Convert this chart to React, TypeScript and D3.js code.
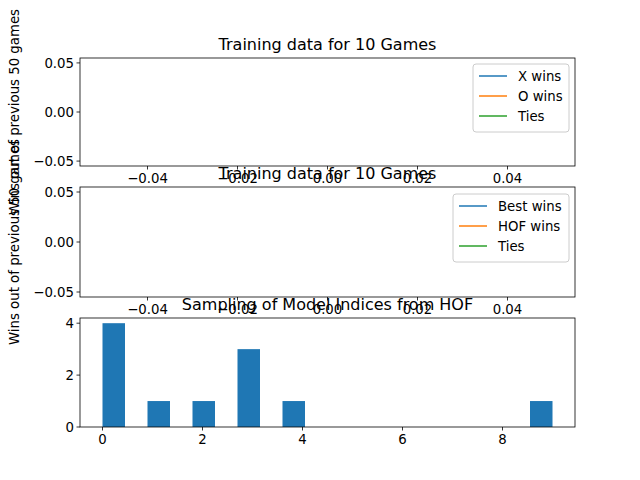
import React from "react";
import * as d3 from "d3";

const titles = ["Training data for 10 Games", "Training data for 10 Games", "Sampling of Model Indices from HOF"];
const legend1 = ["X wins", "O wins", "Ties"];
const legend2 = ["Best wins", "HOF wins", "Ties"];
const colors = ["#1f77b4", "#ff7f0e", "#2ca02c"];
const emptyTicksX = [-0.04, -0.02, 0.0, 0.02, 0.04];
const emptyTicksY = [-0.05, 0.0, 0.05];
const sampleIndices = [0, 0, 0, 0, 1, 2, 3, 3, 3, 4, 9];
const histTicksX = [0, 2, 4, 6, 8];
const histTicksY = [0, 2, 4];

const L = 80, R = 575;
const panels = [{ t: 58, b: 166 }, { t: 187, b: 297 }, { t: 318, b: 427 }];
const font = "DejaVu Sans, sans-serif";
const minus = (s: string) => s.replace("-", "\u2212");

function Axes({ t, b, x, y, xt, yt, fx, fy, title, children }: any) {
  return (
    <g>
      {children}
      <rect x={L} y={t} width={R - L} height={b - t} fill="none" stroke="#000" strokeWidth={0.8} />
      {xt.map((v: number) => (
        <g key={"x" + v}>
          <line x1={x(v)} x2={x(v)} y1={b} y2={b + 3.5} stroke="#000" strokeWidth={0.8} />
          <text x={x(v)} y={b + 17} textAnchor="middle" fontSize={13.3}>{fx(v)}</text>
        </g>
      ))}
      {yt.map((v: number) => (
        <g key={"y" + v}>
          <line x1={L - 3.5} x2={L} y1={y(v)} y2={y(v)} stroke="#000" strokeWidth={0.8} />
          <text x={L - 6} y={y(v) + 5} textAnchor="end" fontSize={13.3}>{fy(v)}</text>
        </g>
      ))}
      <text x={(L + R) / 2} y={t - 8} textAnchor="middle" fontSize={16}>{title}</text>
    </g>
  );
}

function Legend({ x0, y0, w, items }: any) {
  return (
    <g>
      <rect x={x0} y={y0} width={w} height={68} fill="#fff" fillOpacity={0.8} stroke="#ccc" rx={3} />
      {items.map((s: string, i: number) => (
        <g key={s}>
          <line x1={x0 + 6} x2={x0 + 34} y1={y0 + 12 + i * 20} y2={y0 + 12 + i * 20} stroke={colors[i]} strokeWidth={1.5} />
          <text x={x0 + 45} y={y0 + 17 + i * 20} fontSize={13.3}>{s}</text>
        </g>
      ))}
    </g>
  );
}

export default function App() {
  const ex = d3.scaleLinear().domain([-0.055, 0.055]).range([L, R]);
  const fmtX = (v: number) => minus(d3.format(".2f")(v));
  const inner = d3.range(1, 20).map((i) => i * 0.45);
  const bins = d3.bin().domain([0, 9]).thresholds(inner)(sampleIndices);
  const hx = d3.scaleLinear().domain([-0.45, 9.45]).range([L, R]);
  const hy = d3.scaleLinear().domain([0, 4.2]).range([panels[2].b, panels[2].t]);
  return (
    <svg width={640} height={480} style={{ position: "absolute", left: 0, top: 0, fontFamily: font }}>
      <rect width={640} height={480} fill="#fff" />
      {[0, 1].map((k) => {
        const ey = d3.scaleLinear().domain([-0.055, 0.055]).range([panels[k].b, panels[k].t]);
        return (
          <Axes key={k} t={panels[k].t} b={panels[k].b} x={ex} y={ey} xt={emptyTicksX} yt={emptyTicksY}
            fx={fmtX} fy={fmtX} title={titles[k]} />
        );
      })}
      <Axes t={panels[2].t} b={panels[2].b} x={hx} y={hy} xt={histTicksX} yt={histTicksY}
        fx={(v: number) => String(v)} fy={(v: number) => String(v)} title={titles[2]}>
        {bins.filter((bn) => bn.length > 0).map((bn, i) => (
          <rect key={i} x={hx(bn.x0!)} width={hx(bn.x1!) - hx(bn.x0!)} y={hy(bn.length)}
            height={hy(0) - hy(bn.length)} fill="#1f77b4" />
        ))}
      </Axes>
      <Legend x0={473} y0={64} w={96} items={legend1} />
      <Legend x0={453} y0={194} w={116} items={legend2} />
      <text transform="translate(19,112) rotate(-90)" textAnchor="middle" fontSize={13.3}>Wins out of previous 50 games</text>
      <text transform="translate(19,242) rotate(-90)" textAnchor="middle" fontSize={13.3}>Wins out of previous 50 games</text>
    </svg>
  );
}
